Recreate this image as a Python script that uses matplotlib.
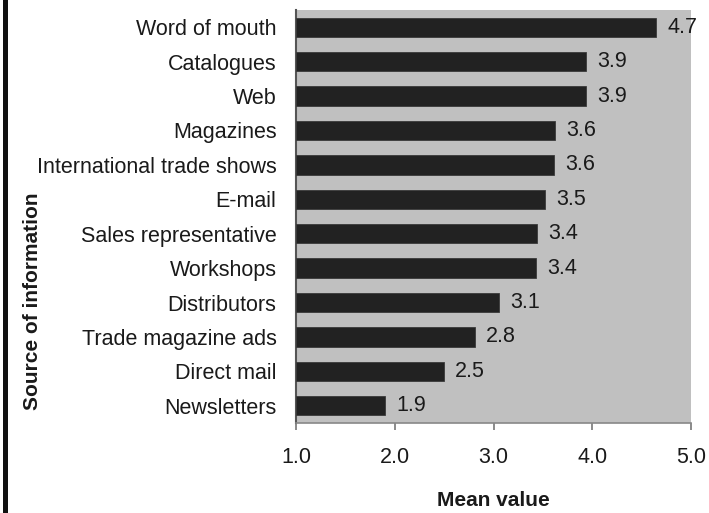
import matplotlib
matplotlib.use('Agg')
import matplotlib.pyplot as plt
from matplotlib.patches import Rectangle

plt.rcParams['font.family'] = ['Liberation Sans', 'DejaVu Sans']

# ── data (top to bottom) ───────────────────────────────────────────
sources = ['Word of mouth', 'Catalogues', 'Web', 'Magazines',
           'International trade shows', 'E-mail', 'Sales representative',
           'Workshops', 'Distributors', 'Trade magazine ads',
           'Direct mail', 'Newsletters']
means = [4.65, 3.94, 3.94, 3.62, 3.61, 3.52, 3.44, 3.43, 3.06, 2.81, 2.50, 1.90]
value_labels = ['4.7', '3.9', '3.9', '3.6', '3.6', '3.5', '3.4', '3.4',
                '3.1', '2.8', '2.5', '1.9']
xticks = [1.0, 2.0, 3.0, 4.0, 5.0]

txt = '#1a1a1a'
fs = 15.5
fig = plt.figure(figsize=(7.09, 5.13), dpi=100)
ax = fig.add_axes([296/709, 90/513, 395/709, 413/513])
ax.set_facecolor('#c0c0c0')

ypos = list(range(len(sources)))
ax.barh(ypos, [m - 1.0 for m in means], left=1.0, height=0.56,
        color='#222222', edgecolor='#3a3a3a', linewidth=0.6, zorder=3)
for y, m, lab in zip(ypos, means, value_labels):
    ax.annotate(lab, (m, y), xytext=(8, 0), textcoords='offset points',
                va='center', ha='left', fontsize=fs, color=txt, zorder=4)

ax.set_xlim(1.0, 5.0)
ax.set_ylim(len(sources) - 0.5, -0.5)
ax.set_xticks(xticks)
ax.set_xticklabels([f'{t:.1f}' for t in xticks])
ax.set_yticks(ypos)
ax.set_yticklabels(sources)
ax.tick_params(axis='y', length=0, pad=14, labelsize=fs, labelcolor=txt)
ax.tick_params(axis='x', direction='out', length=5, width=1.2,
               color='#777777', pad=12, labelsize=fs, labelcolor=txt)
for s in ['top', 'right']:
    ax.spines[s].set_visible(False)
ax.spines['left'].set_color('#555555')
ax.spines['left'].set_linewidth(1.5)
ax.spines['bottom'].set_color('#888888')
ax.spines['bottom'].set_linewidth(1.2)

ax.set_xlabel('Mean value', fontsize=15, fontweight='bold', color=txt,
              labelpad=17)
fig.text(33/709, 1 - 301/513, 'Source of information', rotation=90,
         ha='center', va='center', fontsize=15, fontweight='bold', color=txt)

# black border strip on the left edge
fig.add_artist(Rectangle((3/709, 0), 5/709, 1, transform=fig.transFigure,
                         color='#111111', lw=0))

fig.savefig('out.png', dpi=100)
